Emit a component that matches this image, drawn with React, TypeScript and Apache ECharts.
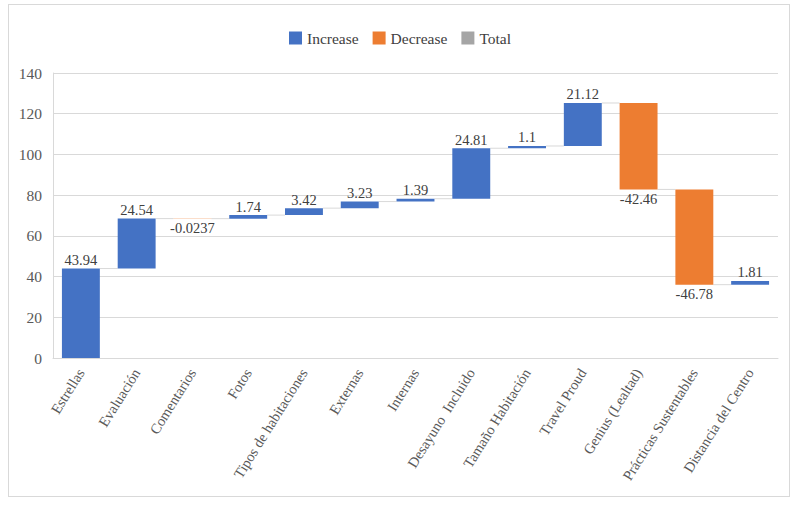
import React, { useEffect, useRef } from "react";
import * as echarts from "echarts";

const categories = [
  "Estrellas",
  "Evaluación",
  "Comentarios",
  "Fotos",
  "Tipos de habitaciones",
  "Externas",
  "Internas",
  "Desayuno  Incluido",
  "Tamaño Habitación",
  "Travel Proud",
  "Genius (Lealtad)",
  "Prácticas Sustentables",
  "Distancia del Centro",
];
const changes = [43.94, 24.54, -0.0237, 1.74, 3.42, 3.23, 1.39, 24.81, 1.1, 21.12, -42.46, -46.78, 1.81];
const changeLabels = ["43.94", "24.54", "-0.0237", "1.74", "3.42", "3.23", "1.39", "24.81", "1.1", "21.12", "-42.46", "-46.78", "1.81"];
const yTicks = { min: 0, max: 140, interval: 20 };

const FONT = "Liberation Serif";
const BAR_RATIO = 0.68;

export default function App() {
  const ref = useRef<HTMLDivElement>(null);
  useEffect(() => {
    if (!ref.current) return;
    const chart = echarts.init(ref.current, null, { renderer: "svg" });

    const cumulative: number[] = [];
    let run = 0;
    changes.forEach((c) => {
      run += c;
      cumulative.push(run);
    });
    const base: number[] = [];
    const inc: (number | string)[] = [];
    const dec: (number | string)[] = [];
    changes.forEach((c, i) => {
      const end = cumulative[i];
      const start = end - c;
      base.push(Math.min(start, end));
      if (c >= 0) {
        inc.push(c);
        dec.push("-");
      } else {
        inc.push("-");
        dec.push(-c);
      }
    });
    const connectors = cumulative.slice(0, -1).map((v, i) => [i, v]);

    const labelStyle = { color: "#404040", fontSize: 14.5, fontFamily: FONT };

    chart.setOption({
      animation: false,
      textStyle: { fontFamily: FONT },
      legend: {
        top: 25,
        left: "center",
        itemWidth: 13,
        itemHeight: 13,
        itemGap: 14,
        icon: "rect",
        textStyle: { color: "#404040", fontSize: 15.5, fontFamily: FONT },
        data: ["Increase", "Decrease", "Total"],
      },
      grid: { left: 53, right: 22, top: 73, bottom: 147, containLabel: false },
      xAxis: {
        type: "category",
        data: categories,
        axisLine: { show: true, lineStyle: { color: "#d9d9d9" } },
        axisTick: { show: false },
        axisLabel: {
          rotate: 58,
          interval: 0,
          color: "#595959",
          fontSize: 14.5,
          fontFamily: FONT,
          margin: 12,
        },
      },
      yAxis: {
        type: "value",
        min: yTicks.min,
        max: yTicks.max,
        interval: yTicks.interval,
        axisLine: { show: true, lineStyle: { color: "#d9d9d9" } },
        axisTick: { show: false },
        splitLine: { lineStyle: { color: "#d9d9d9" } },
        axisLabel: { color: "#595959", fontSize: 15.5, fontFamily: FONT, margin: 11 },
      },
      series: [
        {
          name: "base",
          type: "bar",
          stack: "wf",
          barWidth: BAR_RATIO * 100 + "%",
          itemStyle: { color: "transparent" },
          emphasis: { disabled: true },
          data: base,
          silent: true,
        },
        {
          name: "Increase",
          type: "bar",
          stack: "wf",
          itemStyle: { color: "#4472C4" },
          data: inc,
          label: {
            show: true,
            position: "top",
            distance: 1,
            ...labelStyle,
            formatter: (p: any) => changeLabels[p.dataIndex],
          },
        },
        {
          name: "Decrease",
          type: "bar",
          stack: "wf",
          itemStyle: { color: "#ED7D31" },
          data: dec,
          label: {
            show: true,
            position: "bottom",
            distance: 2,
            ...labelStyle,
            formatter: (p: any) => changeLabels[p.dataIndex],
          },
        },
        {
          name: "Total",
          type: "bar",
          stack: "wf",
          itemStyle: { color: "#A5A5A5" },
          data: [],
        },
        {
          name: "connectors",
          type: "custom",
          silent: true,
          data: connectors,
          renderItem: (params: any, api: any) => {
            const i = api.value(0);
            const v = api.value(1);
            const w = api.size([1, 0])[0] * BAR_RATIO;
            const p1 = api.coord([i, v]);
            const p2 = api.coord([i + 1, v]);
            return {
              type: "line",
              shape: { x1: p1[0] + w / 2, y1: p1[1], x2: p2[0] - w / 2, y2: p2[1] },
              style: { stroke: "#d9d9d9", lineWidth: 1 },
            };
          },
          z: 1,
        },
      ],
    });
    return () => chart.dispose();
  }, []);

  return (
    <div
      style={{
        position: "absolute",
        left: 8,
        top: 4,
        width: 782,
        height: 493,
        border: "1px solid #d9d9d9",
        boxSizing: "border-box",
      }}
    >
      <div ref={ref} style={{ position: "absolute", left: -9, top: -5, width: 800, height: 505 }} />
    </div>
  );
}
